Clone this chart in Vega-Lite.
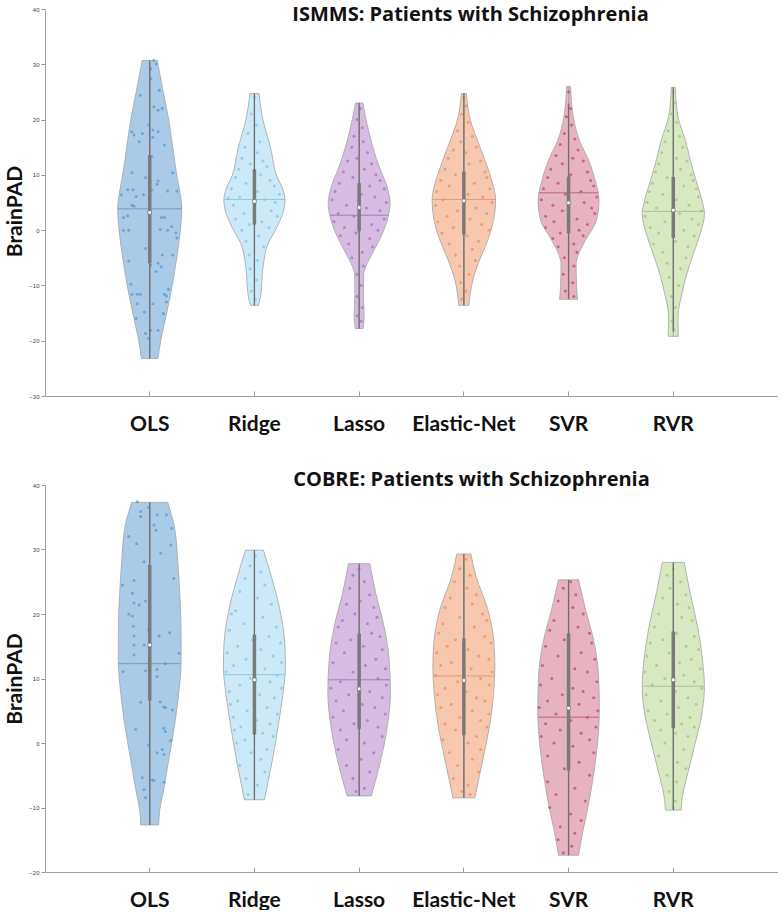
{
"$schema": "https://vega.github.io/schema/vega-lite/v6.json",
"background": "white",
"padding": {"left": 4, "top": 5, "right": 0, "bottom": 0},
"spacing": 35,
"config": {"view": {"stroke": null}, "font": "Lato"},
"datasets": {
"ismms_outline": [
{"method":"OLS","value":-23.2,"w":7.9},{"method":"OLS","value":-20,"w":10.5},{"method":"OLS","value":-15,"w":16.2},{"method":"OLS","value":-10,"w":21.5},{"method":"OLS","value":-5,"w":25.8},{"method":"OLS","value":0,"w":29.3},{"method":"OLS","value":4,"w":30.6},{"method":"OLS","value":6,"w":29.6},{"method":"OLS","value":10,"w":25.8},{"method":"OLS","value":15,"w":22},{"method":"OLS","value":20,"w":18.1},{"method":"OLS","value":25,"w":12.9},{"method":"OLS","value":30.7,"w":7.2},
{"method":"Ridge","value":-13.6,"w":3.8},{"method":"Ridge","value":-12,"w":5.8},{"method":"Ridge","value":-6.6,"w":8.3},{"method":"Ridge","value":-2.4,"w":13.1},{"method":"Ridge","value":0,"w":20},{"method":"Ridge","value":3,"w":27},{"method":"Ridge","value":5.5,"w":29.2},{"method":"Ridge","value":7,"w":27.8},{"method":"Ridge","value":10,"w":21},{"method":"Ridge","value":15,"w":15.3},{"method":"Ridge","value":20,"w":8.1},{"method":"Ridge","value":24.7,"w":4.3},
{"method":"Lasso","value":-17.8,"w":3.8},{"method":"Lasso","value":-15.7,"w":4.8},{"method":"Lasso","value":-12,"w":4.1},{"method":"Lasso","value":-8,"w":4.3},{"method":"Lasso","value":-6.6,"w":6.4},{"method":"Lasso","value":-4.2,"w":12.7},{"method":"Lasso","value":-0.6,"w":22.3},{"method":"Lasso","value":2.4,"w":27.7},{"method":"Lasso","value":4.8,"w":29.6},{"method":"Lasso","value":7.8,"w":26.7},{"method":"Lasso","value":11.5,"w":19.1},{"method":"Lasso","value":17.5,"w":9.6},{"method":"Lasso","value":23,"w":3.5},
{"method":"Elastic-Net","value":-13.6,"w":4.8},{"method":"Elastic-Net","value":-9,"w":8.6},{"method":"Elastic-Net","value":-5.4,"w":15},{"method":"Elastic-Net","value":-1.8,"w":22.9},{"method":"Elastic-Net","value":1.8,"w":28.4},{"method":"Elastic-Net","value":5.4,"w":30.3},{"method":"Elastic-Net","value":10.3,"w":24.5},{"method":"Elastic-Net","value":14.5,"w":16.5},{"method":"Elastic-Net","value":20.5,"w":5.4},{"method":"Elastic-Net","value":24.7,"w":2.4},
{"method":"SVR","value":-12.5,"w":8.6},{"method":"SVR","value":-10,"w":7.6},{"method":"SVR","value":-6,"w":7.2},{"method":"SVR","value":-4.8,"w":8.6},{"method":"SVR","value":-1.8,"w":16.2},{"method":"SVR","value":1.8,"w":26.7},{"method":"SVR","value":5.4,"w":29.1},{"method":"SVR","value":9,"w":25.5},{"method":"SVR","value":12.7,"w":19.1},{"method":"SVR","value":16.3,"w":10.2},{"method":"SVR","value":20.5,"w":4.5},{"method":"SVR","value":26,"w":1.9},
{"method":"RVR","value":-19.2,"w":4.8},{"method":"RVR","value":-15.7,"w":4.5},{"method":"RVR","value":-11.4,"w":8.3},{"method":"RVR","value":-7.8,"w":13.1},{"method":"RVR","value":-4.2,"w":19.4},{"method":"RVR","value":-0.6,"w":25.8},{"method":"RVR","value":3,"w":29.8},{"method":"RVR","value":5.4,"w":27.4},{"method":"RVR","value":9,"w":21.7},{"method":"RVR","value":12.7,"w":16.2},{"method":"RVR","value":16.3,"w":11.5},{"method":"RVR","value":20.5,"w":4.5},{"method":"RVR","value":25.8,"w":1.9}
],
"ismms_stats": [
{"method":"OLS","min":-23.2,"q1":-6,"median":3.2,"mean":3.85,"q3":13.6,"max":30.7,"meanw":30.5},
{"method":"Ridge","min":-13.6,"q1":1,"median":5.2,"mean":5.55,"q3":11,"max":24.7,"meanw":29.2},
{"method":"Lasso","min":-17.8,"q1":-0.2,"median":4.1,"mean":2.7,"q3":8.5,"max":23,"meanw":28},
{"method":"Elastic-Net","min":-13.6,"q1":-0.8,"median":5.3,"mean":5.55,"q3":10.6,"max":24.7,"meanw":30.2},
{"method":"SVR","min":-12.5,"q1":-0.6,"median":4.95,"mean":6.75,"q3":9.7,"max":22.9,"meanw":28},
{"method":"RVR","min":-18.4,"q1":-1.4,"median":3.6,"mean":3.4,"q3":9.6,"max":25.8,"meanw":29.5}
],
"ismms_points": [
{"method":"OLS","value":30.7,"offset":4},{"method":"OLS","value":30.1,"offset":6},{"method":"OLS","value":29.2,"offset":1},{"method":"OLS","value":27.4,"offset":1},{"method":"OLS","value":24.4,"offset":-9},{"method":"OLS","value":25.3,"offset":9},{"method":"OLS","value":22.3,"offset":4},{"method":"OLS","value":21.7,"offset":8},{"method":"OLS","value":22,"offset":12},{"method":"OLS","value":19,"offset":-1},{"method":"OLS","value":18.1,"offset":3},{"method":"OLS","value":17.8,"offset":8},{"method":"OLS","value":17.8,"offset":-17},{"method":"OLS","value":17.2,"offset":-15},{"method":"OLS","value":16,"offset":-10},{"method":"OLS","value":17.5,"offset":-7},{"method":"OLS","value":16.8,"offset":3},{"method":"OLS","value":15.4,"offset":14},{"method":"OLS","value":13.3,"offset":2},{"method":"OLS","value":10.4,"offset":-17},{"method":"OLS","value":9.5,"offset":-4},{"method":"OLS","value":8.9,"offset":8},{"method":"OLS","value":8.3,"offset":7},{"method":"OLS","value":10.4,"offset":22},{"method":"OLS","value":7.3,"offset":-21},{"method":"OLS","value":7.3,"offset":-16},{"method":"OLS","value":6.1,"offset":-13},{"method":"OLS","value":6.4,"offset":-6},{"method":"OLS","value":7.3,"offset":2},{"method":"OLS","value":7.1,"offset":17},{"method":"OLS","value":7.1,"offset":26},{"method":"OLS","value":6.4,"offset":-27},{"method":"OLS","value":4.3,"offset":-15},{"method":"OLS","value":4.5,"offset":-17},{"method":"OLS","value":2.3,"offset":-25},{"method":"OLS","value":2.6,"offset":-21},{"method":"OLS","value":0,"offset":-25},{"method":"OLS","value":0,"offset":-20},{"method":"OLS","value":2.3,"offset":11},{"method":"OLS","value":2.3,"offset":14},{"method":"OLS","value":0.1,"offset":10},{"method":"OLS","value":0,"offset":17},{"method":"OLS","value":0.6,"offset":21},{"method":"OLS","value":-1.4,"offset":26},{"method":"OLS","value":-0.5,"offset":25},{"method":"OLS","value":-3.3,"offset":-4},{"method":"OLS","value":-6.3,"offset":1},{"method":"OLS","value":-6,"offset":8},{"method":"OLS","value":-6.6,"offset":11},{"method":"OLS","value":-7.5,"offset":6},{"method":"OLS","value":-4.5,"offset":12},{"method":"OLS","value":-4.5,"offset":22},{"method":"OLS","value":-5.6,"offset":-20},{"method":"OLS","value":-9.8,"offset":-18},{"method":"OLS","value":-11.6,"offset":-12},{"method":"OLS","value":-11.6,"offset":-9},{"method":"OLS","value":-11.6,"offset":-17},{"method":"OLS","value":-10.7,"offset":18},{"method":"OLS","value":-11.9,"offset":16},{"method":"OLS","value":-11.6,"offset":14},{"method":"OLS","value":-13,"offset":16},{"method":"OLS","value":-13.3,"offset":-12},{"method":"OLS","value":-13.3,"offset":3},{"method":"OLS","value":-14.8,"offset":-5},{"method":"OLS","value":-16,"offset":-13},{"method":"OLS","value":-15.1,"offset":13},{"method":"OLS","value":-18.7,"offset":-4},{"method":"OLS","value":-18.1,"offset":1},{"method":"OLS","value":-18.1,"offset":8},{"method":"OLS","value":-19.6,"offset":-1},
{"method":"Ridge","value":24,"offset":0},{"method":"Ridge","value":21,"offset":-3},{"method":"Ridge","value":19,"offset":2},{"method":"Ridge","value":17.5,"offset":-6},{"method":"Ridge","value":16,"offset":5},{"method":"Ridge","value":15,"offset":-9},{"method":"Ridge","value":14,"offset":3},{"method":"Ridge","value":13,"offset":-12},{"method":"Ridge","value":12.5,"offset":8},{"method":"Ridge","value":12,"offset":-4},{"method":"Ridge","value":11.5,"offset":12},{"method":"Ridge","value":11,"offset":-15},{"method":"Ridge","value":10,"offset":6},{"method":"Ridge","value":9.5,"offset":-18},{"method":"Ridge","value":9,"offset":15},{"method":"Ridge","value":8.5,"offset":-8},{"method":"Ridge","value":8,"offset":19},{"method":"Ridge","value":7.5,"offset":-22},{"method":"Ridge","value":7,"offset":3},{"method":"Ridge","value":6.5,"offset":24},{"method":"Ridge","value":6,"offset":-14},{"method":"Ridge","value":5.8,"offset":-25},{"method":"Ridge","value":5.5,"offset":10},{"method":"Ridge","value":5,"offset":20},{"method":"Ridge","value":4.5,"offset":-20},{"method":"Ridge","value":4,"offset":0},{"method":"Ridge","value":3.5,"offset":16},{"method":"Ridge","value":3,"offset":-10},{"method":"Ridge","value":2.5,"offset":22},{"method":"Ridge","value":2,"offset":-18},{"method":"Ridge","value":1.5,"offset":7},{"method":"Ridge","value":1,"offset":-5},{"method":"Ridge","value":0.5,"offset":14},{"method":"Ridge","value":0,"offset":-12},{"method":"Ridge","value":-1,"offset":4},{"method":"Ridge","value":-2,"offset":-8},{"method":"Ridge","value":-3,"offset":9},{"method":"Ridge","value":-4.5,"offset":-5},{"method":"Ridge","value":-5.5,"offset":3},{"method":"Ridge","value":-7,"offset":-4},{"method":"Ridge","value":-9,"offset":2},{"method":"Ridge","value":-11,"offset":-3},{"method":"Ridge","value":-12.5,"offset":1},
{"method":"Lasso","value":22,"offset":1},{"method":"Lasso","value":20,"offset":-2},{"method":"Lasso","value":18.5,"offset":3},{"method":"Lasso","value":17,"offset":-5},{"method":"Lasso","value":16,"offset":4},{"method":"Lasso","value":15,"offset":-7},{"method":"Lasso","value":14,"offset":8},{"method":"Lasso","value":13,"offset":-2},{"method":"Lasso","value":12.5,"offset":-11},{"method":"Lasso","value":12,"offset":12},{"method":"Lasso","value":11,"offset":5},{"method":"Lasso","value":10.5,"offset":-15},{"method":"Lasso","value":10,"offset":16},{"method":"Lasso","value":9.5,"offset":-6},{"method":"Lasso","value":9,"offset":20},{"method":"Lasso","value":8.5,"offset":-19},{"method":"Lasso","value":8,"offset":10},{"method":"Lasso","value":7.5,"offset":24},{"method":"Lasso","value":7,"offset":-23},{"method":"Lasso","value":6.5,"offset":2},{"method":"Lasso","value":6,"offset":15},{"method":"Lasso","value":5.5,"offset":-26},{"method":"Lasso","value":5,"offset":26},{"method":"Lasso","value":4.5,"offset":-12},{"method":"Lasso","value":4,"offset":7},{"method":"Lasso","value":3.5,"offset":20},{"method":"Lasso","value":3,"offset":-20},{"method":"Lasso","value":2.5,"offset":-5},{"method":"Lasso","value":2,"offset":24},{"method":"Lasso","value":1.5,"offset":-24},{"method":"Lasso","value":1,"offset":12},{"method":"Lasso","value":0.5,"offset":-14},{"method":"Lasso","value":0,"offset":18},{"method":"Lasso","value":-0.5,"offset":-3},{"method":"Lasso","value":-1,"offset":-18},{"method":"Lasso","value":-1.5,"offset":10},{"method":"Lasso","value":-2.5,"offset":-10},{"method":"Lasso","value":-3,"offset":13},{"method":"Lasso","value":-4,"offset":3},{"method":"Lasso","value":-5,"offset":-7},{"method":"Lasso","value":-6.5,"offset":4},{"method":"Lasso","value":-8,"offset":-2},{"method":"Lasso","value":-10,"offset":2},{"method":"Lasso","value":-12,"offset":-2},{"method":"Lasso","value":-14,"offset":3},{"method":"Lasso","value":-15.5,"offset":-2},{"method":"Lasso","value":-16.5,"offset":2},
{"method":"Elastic-Net","value":24,"offset":0},{"method":"Elastic-Net","value":22.5,"offset":2},{"method":"Elastic-Net","value":21,"offset":-2},{"method":"Elastic-Net","value":19.5,"offset":4},{"method":"Elastic-Net","value":18,"offset":-6},{"method":"Elastic-Net","value":17,"offset":8},{"method":"Elastic-Net","value":16,"offset":-3},{"method":"Elastic-Net","value":15,"offset":12},{"method":"Elastic-Net","value":14.5,"offset":-10},{"method":"Elastic-Net","value":14,"offset":2},{"method":"Elastic-Net","value":13,"offset":-15},{"method":"Elastic-Net","value":12.5,"offset":16},{"method":"Elastic-Net","value":12,"offset":5},{"method":"Elastic-Net","value":11,"offset":-18},{"method":"Elastic-Net","value":10.5,"offset":20},{"method":"Elastic-Net","value":10,"offset":-8},{"method":"Elastic-Net","value":9.5,"offset":22},{"method":"Elastic-Net","value":9,"offset":-22},{"method":"Elastic-Net","value":8.5,"offset":10},{"method":"Elastic-Net","value":8,"offset":-14},{"method":"Elastic-Net","value":7.5,"offset":25},{"method":"Elastic-Net","value":7,"offset":-26},{"method":"Elastic-Net","value":6.5,"offset":4},{"method":"Elastic-Net","value":6,"offset":18},{"method":"Elastic-Net","value":5.5,"offset":-20},{"method":"Elastic-Net","value":5,"offset":27},{"method":"Elastic-Net","value":4.5,"offset":-27},{"method":"Elastic-Net","value":4,"offset":12},{"method":"Elastic-Net","value":3.5,"offset":-6},{"method":"Elastic-Net","value":3,"offset":22},{"method":"Elastic-Net","value":2.5,"offset":-16},{"method":"Elastic-Net","value":2,"offset":6},{"method":"Elastic-Net","value":1.5,"offset":-25},{"method":"Elastic-Net","value":1,"offset":17},{"method":"Elastic-Net","value":0.5,"offset":-10},{"method":"Elastic-Net","value":0,"offset":24},{"method":"Elastic-Net","value":-0.5,"offset":-21},{"method":"Elastic-Net","value":-1,"offset":3},{"method":"Elastic-Net","value":-2,"offset":14},{"method":"Elastic-Net","value":-2.5,"offset":-14},{"method":"Elastic-Net","value":-3.5,"offset":8},{"method":"Elastic-Net","value":-4.5,"offset":-8},{"method":"Elastic-Net","value":-5.5,"offset":11},{"method":"Elastic-Net","value":-6.5,"offset":-4},{"method":"Elastic-Net","value":-8,"offset":5},{"method":"Elastic-Net","value":-9.5,"offset":-3},{"method":"Elastic-Net","value":-11,"offset":2},{"method":"Elastic-Net","value":-12.5,"offset":-2},
{"method":"SVR","value":25,"offset":0},{"method":"SVR","value":22,"offset":2},{"method":"SVR","value":20.5,"offset":-2},{"method":"SVR","value":19,"offset":3},{"method":"SVR","value":17.5,"offset":-4},{"method":"SVR","value":16.5,"offset":6},{"method":"SVR","value":15.5,"offset":-8},{"method":"SVR","value":14.5,"offset":9},{"method":"SVR","value":13.5,"offset":-12},{"method":"SVR","value":13,"offset":4},{"method":"SVR","value":12.5,"offset":14},{"method":"SVR","value":12,"offset":-6},{"method":"SVR","value":11,"offset":-17},{"method":"SVR","value":10.5,"offset":18},{"method":"SVR","value":10,"offset":2},{"method":"SVR","value":9.5,"offset":-20},{"method":"SVR","value":9,"offset":21},{"method":"SVR","value":8.5,"offset":-10},{"method":"SVR","value":8,"offset":24},{"method":"SVR","value":7.5,"offset":-24},{"method":"SVR","value":7,"offset":12},{"method":"SVR","value":6.5,"offset":-3},{"method":"SVR","value":6,"offset":27},{"method":"SVR","value":5.5,"offset":-26},{"method":"SVR","value":5,"offset":15},{"method":"SVR","value":4.5,"offset":-15},{"method":"SVR","value":4,"offset":22},{"method":"SVR","value":3.5,"offset":-6},{"method":"SVR","value":3,"offset":25},{"method":"SVR","value":2.5,"offset":-22},{"method":"SVR","value":2,"offset":8},{"method":"SVR","value":1.5,"offset":-14},{"method":"SVR","value":1,"offset":18},{"method":"SVR","value":0.5,"offset":-22},{"method":"SVR","value":0,"offset":10},{"method":"SVR","value":-0.5,"offset":-8},{"method":"SVR","value":-1,"offset":14},{"method":"SVR","value":-1.5,"offset":-15},{"method":"SVR","value":-2.5,"offset":5},{"method":"SVR","value":-3,"offset":-10},{"method":"SVR","value":-4,"offset":8},{"method":"SVR","value":-5,"offset":-4},{"method":"SVR","value":-6.5,"offset":5},{"method":"SVR","value":-8,"offset":-5},{"method":"SVR","value":-9.5,"offset":4},{"method":"SVR","value":-11,"offset":-3},{"method":"SVR","value":-12,"offset":5},
{"method":"RVR","value":25,"offset":0},{"method":"RVR","value":23,"offset":1},{"method":"RVR","value":21,"offset":-2},{"method":"RVR","value":19.5,"offset":3},{"method":"RVR","value":18,"offset":-5},{"method":"RVR","value":17,"offset":6},{"method":"RVR","value":16,"offset":-8},{"method":"RVR","value":15,"offset":9},{"method":"RVR","value":14,"offset":-11},{"method":"RVR","value":13,"offset":3},{"method":"RVR","value":12.5,"offset":13},{"method":"RVR","value":12,"offset":-14},{"method":"RVR","value":11,"offset":7},{"method":"RVR","value":10.5,"offset":-17},{"method":"RVR","value":10,"offset":17},{"method":"RVR","value":9.5,"offset":-6},{"method":"RVR","value":9,"offset":19},{"method":"RVR","value":8.5,"offset":-20},{"method":"RVR","value":8,"offset":10},{"method":"RVR","value":7.5,"offset":22},{"method":"RVR","value":7,"offset":-23},{"method":"RVR","value":6.5,"offset":-10},{"method":"RVR","value":6,"offset":24},{"method":"RVR","value":5.5,"offset":3},{"method":"RVR","value":5,"offset":-25},{"method":"RVR","value":4.5,"offset":15},{"method":"RVR","value":4,"offset":-16},{"method":"RVR","value":3.5,"offset":27},{"method":"RVR","value":3,"offset":6},{"method":"RVR","value":2.5,"offset":-27},{"method":"RVR","value":2,"offset":18},{"method":"RVR","value":1.5,"offset":-8},{"method":"RVR","value":1,"offset":24},{"method":"RVR","value":0.5,"offset":-22},{"method":"RVR","value":0,"offset":10},{"method":"RVR","value":-0.5,"offset":-14},{"method":"RVR","value":-1,"offset":20},{"method":"RVR","value":-2,"offset":2},{"method":"RVR","value":-2.5,"offset":-19},{"method":"RVR","value":-3,"offset":14},{"method":"RVR","value":-4,"offset":-10},{"method":"RVR","value":-5,"offset":12},{"method":"RVR","value":-6,"offset":-6},{"method":"RVR","value":-7,"offset":7},{"method":"RVR","value":-8.5,"offset":-4},{"method":"RVR","value":-10,"offset":5},{"method":"RVR","value":-12,"offset":-2},{"method":"RVR","value":-14,"offset":2},{"method":"RVR","value":-16.5,"offset":-1},{"method":"RVR","value":-18,"offset":1}
],
"cobre_outline": [
{"method":"OLS","value":-12.7,"w":8.6},{"method":"OLS","value":-10.3,"w":9.6},{"method":"OLS","value":-7.8,"w":12.7},{"method":"OLS","value":-2.6,"w":18.1},{"method":"OLS","value":2.6,"w":23.6},{"method":"OLS","value":7.7,"w":27.7},{"method":"OLS","value":12.8,"w":30},{"method":"OLS","value":18,"w":29.9},{"method":"OLS","value":23.2,"w":28.7},{"method":"OLS","value":28.3,"w":26.7},{"method":"OLS","value":33.5,"w":23.6},{"method":"OLS","value":37.3,"w":17.2},
{"method":"Ridge","value":-8.8,"w":9.6},{"method":"Ridge","value":-6.7,"w":12.1},{"method":"Ridge","value":-2.6,"w":17.2},{"method":"Ridge","value":2.6,"w":22.6},{"method":"Ridge","value":7.7,"w":27.4},{"method":"Ridge","value":11.9,"w":29.6},{"method":"Ridge","value":15.5,"w":29},{"method":"Ridge","value":20.7,"w":24.3},{"method":"Ridge","value":25.8,"w":16.2},{"method":"Ridge","value":29.9,"w":8.6},
{"method":"Lasso","value":-8.2,"w":11.5},{"method":"Lasso","value":-5.7,"w":15.9},{"method":"Lasso","value":-2.6,"w":20.7},{"method":"Lasso","value":2.6,"w":27},{"method":"Lasso","value":7.7,"w":29.9},{"method":"Lasso","value":12.8,"w":28.7},{"method":"Lasso","value":18,"w":23.9},{"method":"Lasso","value":23.2,"w":15.9},{"method":"Lasso","value":27.8,"w":10.2},
{"method":"Elastic-Net","value":-8.5,"w":10.5},{"method":"Elastic-Net","value":-6.2,"w":13.4},{"method":"Elastic-Net","value":-2.6,"w":18.1},{"method":"Elastic-Net","value":2.6,"w":24.5},{"method":"Elastic-Net","value":7.7,"w":28.4},{"method":"Elastic-Net","value":11.9,"w":29.6},{"method":"Elastic-Net","value":15.5,"w":28.7},{"method":"Elastic-Net","value":20.7,"w":22.9},{"method":"Elastic-Net","value":25.8,"w":11.7},{"method":"Elastic-Net","value":29.3,"w":6.7},
{"method":"SVR","value":-17.4,"w":9.6},{"method":"SVR","value":-13.9,"w":13.4},{"method":"SVR","value":-10.3,"w":18.1},{"method":"SVR","value":-5.2,"w":23.6},{"method":"SVR","value":0,"w":27.7},{"method":"SVR","value":5.2,"w":29.4},{"method":"SVR","value":10.3,"w":28.7},{"method":"SVR","value":15.5,"w":24.5},{"method":"SVR","value":20.7,"w":16.2},{"method":"SVR","value":25.3,"w":9.6},
{"method":"RVR","value":-10.4,"w":7.6},{"method":"RVR","value":-8.8,"w":8.3},{"method":"RVR","value":-5.2,"w":13.1},{"method":"RVR","value":0,"w":21},{"method":"RVR","value":5.2,"w":28},{"method":"RVR","value":8.8,"w":29.7},{"method":"RVR","value":12.8,"w":28},{"method":"RVR","value":18,"w":23.2},{"method":"RVR","value":23.2,"w":16.2},{"method":"RVR","value":28,"w":10.5}
],
"cobre_stats": [
{"method":"OLS","min":-12.7,"q1":6.6,"median":15.2,"mean":12.3,"q3":27.6,"max":37.3,"meanw":29.8},
{"method":"Ridge","min":-8.8,"q1":1.3,"median":9.8,"mean":10.6,"q3":16.8,"max":29.9,"meanw":29},
{"method":"Lasso","min":-8.2,"q1":2.2,"median":8.4,"mean":9.8,"q3":17,"max":27.8,"meanw":29.5},
{"method":"Elastic-Net","min":-8.5,"q1":1.2,"median":9.7,"mean":10.4,"q3":16.2,"max":29.3,"meanw":29.2},
{"method":"SVR","min":-17.4,"q1":-4.3,"median":5.4,"mean":4,"q3":17,"max":25.3,"meanw":29},
{"method":"RVR","min":-10.4,"q1":2.3,"median":9.8,"mean":8.8,"q3":17.3,"max":28,"meanw":29.7}
],
"cobre_points": [
{"method":"OLS","value":37.4,"offset":-11.8},{"method":"OLS","value":35.9,"offset":-8.6},{"method":"OLS","value":35.1,"offset":-8.6},{"method":"OLS","value":36.5,"offset":-1},{"method":"OLS","value":35.4,"offset":7.3},{"method":"OLS","value":35.4,"offset":16},{"method":"OLS","value":33.8,"offset":4},{"method":"OLS","value":33,"offset":6},{"method":"OLS","value":33.3,"offset":21},{"method":"OLS","value":32,"offset":-20},{"method":"OLS","value":30.9,"offset":-12.5},{"method":"OLS","value":29.4,"offset":10.5},{"method":"OLS","value":30.7,"offset":20},{"method":"OLS","value":28.1,"offset":-5.4},{"method":"OLS","value":24.5,"offset":-26},{"method":"OLS","value":25.2,"offset":-15},{"method":"OLS","value":23.2,"offset":-16.5},{"method":"OLS","value":25.5,"offset":23},{"method":"OLS","value":21.7,"offset":-15},{"method":"OLS","value":21.4,"offset":-10},{"method":"OLS","value":22,"offset":-4},{"method":"OLS","value":20,"offset":-20},{"method":"OLS","value":19.7,"offset":-16.5},{"method":"OLS","value":17.6,"offset":-1},{"method":"OLS","value":18.1,"offset":-15.6},{"method":"OLS","value":16.6,"offset":-15},{"method":"OLS","value":16.6,"offset":9},{"method":"OLS","value":17.1,"offset":19},{"method":"OLS","value":15.2,"offset":-15},{"method":"OLS","value":15.2,"offset":-5.4},{"method":"OLS","value":13.9,"offset":28},{"method":"OLS","value":13.7,"offset":-15},{"method":"OLS","value":11.1,"offset":-25.5},{"method":"OLS","value":11.2,"offset":-4},{"method":"OLS","value":11.4,"offset":7},{"method":"OLS","value":12.3,"offset":15},{"method":"OLS","value":10.3,"offset":7},{"method":"OLS","value":6.3,"offset":-8.6},{"method":"OLS","value":6.4,"offset":10},{"method":"OLS","value":5.6,"offset":13.6},{"method":"OLS","value":5.5,"offset":15},{"method":"OLS","value":5.1,"offset":21.6},{"method":"OLS","value":2.1,"offset":-13.4},{"method":"OLS","value":2.3,"offset":13.6},{"method":"OLS","value":1.8,"offset":15},{"method":"OLS","value":0.4,"offset":20},{"method":"OLS","value":-0.3,"offset":-1},{"method":"OLS","value":-1,"offset":12},{"method":"OLS","value":-1.5,"offset":7},{"method":"OLS","value":-1.8,"offset":13.6},{"method":"OLS","value":-5.4,"offset":-7},{"method":"OLS","value":-5.7,"offset":2.5},{"method":"OLS","value":-5.8,"offset":4},{"method":"OLS","value":-6.1,"offset":13.6},{"method":"OLS","value":-7.2,"offset":-5.4},{"method":"OLS","value":-8.5,"offset":-4},
{"method":"Ridge","value":29,"offset":1},{"method":"Ridge","value":27.5,"offset":-4},{"method":"Ridge","value":26.5,"offset":6},{"method":"Ridge","value":25.5,"offset":-9},{"method":"Ridge","value":24.5,"offset":10},{"method":"Ridge","value":23.5,"offset":-14},{"method":"Ridge","value":22.5,"offset":3},{"method":"Ridge","value":21.5,"offset":16},{"method":"Ridge","value":20.5,"offset":-18},{"method":"Ridge","value":20,"offset":-22},{"method":"Ridge","value":19.5,"offset":8},{"method":"Ridge","value":18.5,"offset":-10},{"method":"Ridge","value":18,"offset":21},{"method":"Ridge","value":17.5,"offset":-24},{"method":"Ridge","value":16.5,"offset":14},{"method":"Ridge","value":16,"offset":-2},{"method":"Ridge","value":15.5,"offset":25},{"method":"Ridge","value":15,"offset":-16},{"method":"Ridge","value":14.5,"offset":6},{"method":"Ridge","value":14,"offset":-26},{"method":"Ridge","value":13.5,"offset":18},{"method":"Ridge","value":13,"offset":-8},{"method":"Ridge","value":12.5,"offset":26},{"method":"Ridge","value":12,"offset":-20},{"method":"Ridge","value":11.5,"offset":10},{"method":"Ridge","value":11,"offset":-27},{"method":"Ridge","value":10.5,"offset":22},{"method":"Ridge","value":10,"offset":-4},{"method":"Ridge","value":9.5,"offset":15},{"method":"Ridge","value":9,"offset":-14},{"method":"Ridge","value":8.5,"offset":26},{"method":"Ridge","value":8,"offset":-24},{"method":"Ridge","value":7.5,"offset":5},{"method":"Ridge","value":7,"offset":19},{"method":"Ridge","value":6.5,"offset":-16},{"method":"Ridge","value":6,"offset":-23},{"method":"Ridge","value":5.5,"offset":12},{"method":"Ridge","value":5,"offset":-7},{"method":"Ridge","value":4.5,"offset":22},{"method":"Ridge","value":4,"offset":-20},{"method":"Ridge","value":3.5,"offset":2},{"method":"Ridge","value":3,"offset":15},{"method":"Ridge","value":2.5,"offset":-13},{"method":"Ridge","value":2,"offset":-19},{"method":"Ridge","value":1.5,"offset":8},{"method":"Ridge","value":1,"offset":18},{"method":"Ridge","value":0.5,"offset":-9},{"method":"Ridge","value":0,"offset":-17},{"method":"Ridge","value":-1,"offset":12},{"method":"Ridge","value":-1.5,"offset":-3},{"method":"Ridge","value":-2.5,"offset":6},{"method":"Ridge","value":-3.5,"offset":-14},{"method":"Ridge","value":-4.5,"offset":10},{"method":"Ridge","value":-5.5,"offset":-8},{"method":"Ridge","value":-6.5,"offset":3},{"method":"Ridge","value":-8,"offset":-6},
{"method":"Lasso","value":27,"offset":0},{"method":"Lasso","value":26,"offset":-6},{"method":"Lasso","value":25,"offset":5},{"method":"Lasso","value":24,"offset":-9},{"method":"Lasso","value":23,"offset":10},{"method":"Lasso","value":22,"offset":1},{"method":"Lasso","value":21.5,"offset":-12},{"method":"Lasso","value":21,"offset":14},{"method":"Lasso","value":20,"offset":-4},{"method":"Lasso","value":19.5,"offset":17},{"method":"Lasso","value":19,"offset":-16},{"method":"Lasso","value":18.5,"offset":8},{"method":"Lasso","value":18,"offset":-20},{"method":"Lasso","value":17,"offset":12},{"method":"Lasso","value":16.5,"offset":20},{"method":"Lasso","value":16,"offset":-8},{"method":"Lasso","value":15.5,"offset":-22},{"method":"Lasso","value":15,"offset":4},{"method":"Lasso","value":14.5,"offset":22},{"method":"Lasso","value":14,"offset":-14},{"method":"Lasso","value":13,"offset":16},{"method":"Lasso","value":12.5,"offset":-25},{"method":"Lasso","value":12,"offset":6},{"method":"Lasso","value":11.5,"offset":25},{"method":"Lasso","value":11,"offset":-6},{"method":"Lasso","value":10,"offset":18},{"method":"Lasso","value":9.5,"offset":-18},{"method":"Lasso","value":9,"offset":26},{"method":"Lasso","value":8.5,"offset":-27},{"method":"Lasso","value":8,"offset":10},{"method":"Lasso","value":7.5,"offset":-10},{"method":"Lasso","value":7,"offset":22},{"method":"Lasso","value":6.5,"offset":-22},{"method":"Lasso","value":6,"offset":3},{"method":"Lasso","value":5.5,"offset":15},{"method":"Lasso","value":5,"offset":-15},{"method":"Lasso","value":4.5,"offset":25},{"method":"Lasso","value":4,"offset":-25},{"method":"Lasso","value":3.5,"offset":8},{"method":"Lasso","value":3,"offset":-5},{"method":"Lasso","value":2.5,"offset":18},{"method":"Lasso","value":2,"offset":-18},{"method":"Lasso","value":1,"offset":22},{"method":"Lasso","value":0.5,"offset":-12},{"method":"Lasso","value":0,"offset":5},{"method":"Lasso","value":-1,"offset":-20},{"method":"Lasso","value":-1.5,"offset":14},{"method":"Lasso","value":-2.5,"offset":2},{"method":"Lasso","value":-3.5,"offset":-12},{"method":"Lasso","value":-4.5,"offset":10},{"method":"Lasso","value":-5.5,"offset":-6},{"method":"Lasso","value":-7,"offset":5},{"method":"Lasso","value":-7.5,"offset":-3},
{"method":"Elastic-Net","value":28.5,"offset":2},{"method":"Elastic-Net","value":27,"offset":-4},{"method":"Elastic-Net","value":26,"offset":6},{"method":"Elastic-Net","value":25,"offset":-9},{"method":"Elastic-Net","value":24,"offset":3},{"method":"Elastic-Net","value":23,"offset":12},{"method":"Elastic-Net","value":22.5,"offset":-13},{"method":"Elastic-Net","value":21.5,"offset":8},{"method":"Elastic-Net","value":21,"offset":-18},{"method":"Elastic-Net","value":20,"offset":18},{"method":"Elastic-Net","value":19.5,"offset":-4},{"method":"Elastic-Net","value":19,"offset":22},{"method":"Elastic-Net","value":18.5,"offset":-20},{"method":"Elastic-Net","value":18,"offset":10},{"method":"Elastic-Net","value":17,"offset":-24},{"method":"Elastic-Net","value":16.5,"offset":20},{"method":"Elastic-Net","value":16,"offset":-8},{"method":"Elastic-Net","value":15.5,"offset":26},{"method":"Elastic-Net","value":15,"offset":-16},{"method":"Elastic-Net","value":14.5,"offset":4},{"method":"Elastic-Net","value":14,"offset":-26},{"method":"Elastic-Net","value":13.5,"offset":14},{"method":"Elastic-Net","value":13,"offset":24},{"method":"Elastic-Net","value":12.5,"offset":-12},{"method":"Elastic-Net","value":12,"offset":-22},{"method":"Elastic-Net","value":11.5,"offset":7},{"method":"Elastic-Net","value":11,"offset":27},{"method":"Elastic-Net","value":10.5,"offset":-27},{"method":"Elastic-Net","value":10,"offset":16},{"method":"Elastic-Net","value":9.5,"offset":-6},{"method":"Elastic-Net","value":9,"offset":24},{"method":"Elastic-Net","value":8.5,"offset":-18},{"method":"Elastic-Net","value":8,"offset":2},{"method":"Elastic-Net","value":7.5,"offset":-25},{"method":"Elastic-Net","value":7,"offset":12},{"method":"Elastic-Net","value":6.5,"offset":20},{"method":"Elastic-Net","value":6,"offset":-12},{"method":"Elastic-Net","value":5.5,"offset":-22},{"method":"Elastic-Net","value":5,"offset":8},{"method":"Elastic-Net","value":4.5,"offset":24},{"method":"Elastic-Net","value":4,"offset":-4},{"method":"Elastic-Net","value":3.5,"offset":16},{"method":"Elastic-Net","value":3,"offset":-18},{"method":"Elastic-Net","value":2.5,"offset":22},{"method":"Elastic-Net","value":2,"offset":-8},{"method":"Elastic-Net","value":1,"offset":12},{"method":"Elastic-Net","value":0.5,"offset":-20},{"method":"Elastic-Net","value":0,"offset":4},{"method":"Elastic-Net","value":-1,"offset":16},{"method":"Elastic-Net","value":-1.5,"offset":-14},{"method":"Elastic-Net","value":-2.5,"offset":8},{"method":"Elastic-Net","value":-3.5,"offset":-6},{"method":"Elastic-Net","value":-4.5,"offset":14},{"method":"Elastic-Net","value":-5.5,"offset":-10},{"method":"Elastic-Net","value":-6.5,"offset":4},{"method":"Elastic-Net","value":-7.5,"offset":-2},{"method":"Elastic-Net","value":-8,"offset":6},
{"method":"SVR","value":25,"offset":2},{"method":"SVR","value":24,"offset":-5},{"method":"SVR","value":23,"offset":7},{"method":"SVR","value":22,"offset":-10},{"method":"SVR","value":21,"offset":4},{"method":"SVR","value":20,"offset":14},{"method":"SVR","value":19,"offset":-14},{"method":"SVR","value":18,"offset":9},{"method":"SVR","value":17.5,"offset":-18},{"method":"SVR","value":17,"offset":20},{"method":"SVR","value":16,"offset":-4},{"method":"SVR","value":15.5,"offset":22},{"method":"SVR","value":15,"offset":-22},{"method":"SVR","value":14,"offset":12},{"method":"SVR","value":13.5,"offset":-10},{"method":"SVR","value":13,"offset":25},{"method":"SVR","value":12,"offset":-25},{"method":"SVR","value":11.5,"offset":6},{"method":"SVR","value":11,"offset":18},{"method":"SVR","value":10,"offset":-16},{"method":"SVR","value":9.5,"offset":27},{"method":"SVR","value":9,"offset":-27},{"method":"SVR","value":8.5,"offset":4},{"method":"SVR","value":8,"offset":14},{"method":"SVR","value":7.5,"offset":-6},{"method":"SVR","value":7,"offset":24},{"method":"SVR","value":6.5,"offset":-20},{"method":"SVR","value":6,"offset":10},{"method":"SVR","value":5.5,"offset":-28},{"method":"SVR","value":5,"offset":28},{"method":"SVR","value":4.5,"offset":-12},{"method":"SVR","value":4,"offset":18},{"method":"SVR","value":3.5,"offset":2},{"method":"SVR","value":3,"offset":-22},{"method":"SVR","value":2.5,"offset":26},{"method":"SVR","value":2,"offset":-8},{"method":"SVR","value":1.5,"offset":12},{"method":"SVR","value":1,"offset":-26},{"method":"SVR","value":0.5,"offset":20},{"method":"SVR","value":0,"offset":-14},{"method":"SVR","value":-0.5,"offset":4},{"method":"SVR","value":-1.5,"offset":24},{"method":"SVR","value":-2,"offset":-20},{"method":"SVR","value":-3,"offset":10},{"method":"SVR","value":-4,"offset":-4},{"method":"SVR","value":-5,"offset":20},{"method":"SVR","value":-6,"offset":-20},{"method":"SVR","value":-7,"offset":6},{"method":"SVR","value":-8,"offset":-12},{"method":"SVR","value":-9,"offset":16},{"method":"SVR","value":-10,"offset":-18},{"method":"SVR","value":-11,"offset":2},{"method":"SVR","value":-12,"offset":12},{"method":"SVR","value":-13,"offset":-8},{"method":"SVR","value":-14,"offset":6},{"method":"SVR","value":-15,"offset":-10},{"method":"SVR","value":-16,"offset":3},{"method":"SVR","value":-17,"offset":-5},
{"method":"RVR","value":27,"offset":0},{"method":"RVR","value":26,"offset":-6},{"method":"RVR","value":25,"offset":7},{"method":"RVR","value":24,"offset":-3},{"method":"RVR","value":23,"offset":12},{"method":"RVR","value":22.5,"offset":-10},{"method":"RVR","value":21.5,"offset":4},{"method":"RVR","value":21,"offset":15},{"method":"RVR","value":20,"offset":-14},{"method":"RVR","value":19.5,"offset":8},{"method":"RVR","value":19,"offset":18},{"method":"RVR","value":18,"offset":-18},{"method":"RVR","value":17,"offset":3},{"method":"RVR","value":16.5,"offset":20},{"method":"RVR","value":16,"offset":-10},{"method":"RVR","value":15.5,"offset":-22},{"method":"RVR","value":15,"offset":12},{"method":"RVR","value":14.5,"offset":24},{"method":"RVR","value":14,"offset":-4},{"method":"RVR","value":13.5,"offset":-25},{"method":"RVR","value":13,"offset":17},{"method":"RVR","value":12.5,"offset":6},{"method":"RVR","value":12,"offset":-16},{"method":"RVR","value":11.5,"offset":26},{"method":"RVR","value":11,"offset":-27},{"method":"RVR","value":10.5,"offset":10},{"method":"RVR","value":10,"offset":-8},{"method":"RVR","value":9.5,"offset":20},{"method":"RVR","value":9,"offset":-20},{"method":"RVR","value":8.5,"offset":27},{"method":"RVR","value":8,"offset":2},{"method":"RVR","value":7.5,"offset":-26},{"method":"RVR","value":7,"offset":14},{"method":"RVR","value":6.5,"offset":-12},{"method":"RVR","value":6,"offset":22},{"method":"RVR","value":5.5,"offset":5},{"method":"RVR","value":5,"offset":-24},{"method":"RVR","value":4.5,"offset":-6},{"method":"RVR","value":4,"offset":16},{"method":"RVR","value":3.5,"offset":-18},{"method":"RVR","value":3,"offset":8},{"method":"RVR","value":2.5,"offset":20},{"method":"RVR","value":2,"offset":-12},{"method":"RVR","value":1.5,"offset":2},{"method":"RVR","value":1,"offset":14},{"method":"RVR","value":0,"offset":-8},{"method":"RVR","value":-1,"offset":10},{"method":"RVR","value":-2,"offset":-14},{"method":"RVR","value":-3,"offset":4},{"method":"RVR","value":-4,"offset":12},{"method":"RVR","value":-5,"offset":-6},{"method":"RVR","value":-6,"offset":3},{"method":"RVR","value":-7.5,"offset":-4},{"method":"RVR","value":-9,"offset":2},{"method":"RVR","value":-10,"offset":0}
]
},
"vconcat": [
{
"width": 733, "height": 387,
"title": {"text": "ISMMS: Patients with Schizophrenia", "font": "Open Sans", "fontSize": 20, "fontWeight": "bold", "color": "#111111", "anchor": "middle", "dx": 59, "baseline": "alphabetic", "offset": -35},
"layer": [
{"layer":[
{"data":{"name":"ismms_outline"},"transform":[{"filter":{"field":"method","equal":"OLS"}}],"mark":{"type":"area","orient":"horizontal","interpolate":"monotone","fill":"#a9cbe8","stroke":"#a3a3a3","strokeWidth":0.8},"encoding":{"y":{"field":"value","type":"quantitative","scale":{"domain":[-30,40],"nice":false},"title":"BrainPAD"},"x":{"field":"w","type":"quantitative","scale":{"domain":[-100,600],"nice":false,"zero":false},"axis":null},"x2":{"datum":0}}},
{"data":{"name":"ismms_stats"},"transform":[{"filter":{"field":"method","equal":"OLS"}}],"mark":{"type":"rule","color":"#6d9fc9","strokeWidth":1},"encoding":{"y":{"field":"mean","type":"quantitative","scale":{"domain":[-30,40],"nice":false},"title":"BrainPAD"},"x":{"field":"meanw","type":"quantitative","axis":null},"x2":{"datum":0}}}
]},
{"layer":[
{"data":{"name":"ismms_outline"},"transform":[{"filter":{"field":"method","equal":"OLS"}}],"mark":{"type":"area","orient":"horizontal","interpolate":"monotone","fill":"#a9cbe8","stroke":"#a3a3a3","strokeWidth":0.8},"encoding":{"y":{"field":"value","type":"quantitative","scale":{"domain":[-30,40],"nice":false},"title":"BrainPAD"},"x":{"field":"w","type":"quantitative","scale":{"domain":[-600,100],"nice":false,"zero":false,"reverse":true},"axis":null},"x2":{"datum":0}}},
{"data":{"name":"ismms_stats"},"transform":[{"filter":{"field":"method","equal":"OLS"}}],"mark":{"type":"rule","color":"#6d9fc9","strokeWidth":1},"encoding":{"y":{"field":"mean","type":"quantitative","scale":{"domain":[-30,40],"nice":false},"title":"BrainPAD"},"x":{"field":"meanw","type":"quantitative","axis":null},"x2":{"datum":0}}}
]},
{"layer":[
{"data":{"name":"ismms_outline"},"transform":[{"filter":{"field":"method","equal":"Ridge"}}],"mark":{"type":"area","orient":"horizontal","interpolate":"monotone","fill":"#cce9f8","stroke":"#a3a3a3","strokeWidth":0.8},"encoding":{"y":{"field":"value","type":"quantitative","scale":{"domain":[-30,40],"nice":false},"title":"BrainPAD"},"x":{"field":"w","type":"quantitative","scale":{"domain":[-200,500],"nice":false,"zero":false},"axis":null},"x2":{"datum":0}}},
{"data":{"name":"ismms_stats"},"transform":[{"filter":{"field":"method","equal":"Ridge"}}],"mark":{"type":"rule","color":"#8fcbe6","strokeWidth":1},"encoding":{"y":{"field":"mean","type":"quantitative","scale":{"domain":[-30,40],"nice":false},"title":"BrainPAD"},"x":{"field":"meanw","type":"quantitative","axis":null},"x2":{"datum":0}}}
]},
{"layer":[
{"data":{"name":"ismms_outline"},"transform":[{"filter":{"field":"method","equal":"Ridge"}}],"mark":{"type":"area","orient":"horizontal","interpolate":"monotone","fill":"#cce9f8","stroke":"#a3a3a3","strokeWidth":0.8},"encoding":{"y":{"field":"value","type":"quantitative","scale":{"domain":[-30,40],"nice":false},"title":"BrainPAD"},"x":{"field":"w","type":"quantitative","scale":{"domain":[-500,200],"nice":false,"zero":false,"reverse":true},"axis":null},"x2":{"datum":0}}},
{"data":{"name":"ismms_stats"},"transform":[{"filter":{"field":"method","equal":"Ridge"}}],"mark":{"type":"rule","color":"#8fcbe6","strokeWidth":1},"encoding":{"y":{"field":"mean","type":"quantitative","scale":{"domain":[-30,40],"nice":false},"title":"BrainPAD"},"x":{"field":"meanw","type":"quantitative","axis":null},"x2":{"datum":0}}}
]},
{"layer":[
{"data":{"name":"ismms_outline"},"transform":[{"filter":{"field":"method","equal":"Lasso"}}],"mark":{"type":"area","orient":"horizontal","interpolate":"monotone","fill":"#d6bce1","stroke":"#a3a3a3","strokeWidth":0.8},"encoding":{"y":{"field":"value","type":"quantitative","scale":{"domain":[-30,40],"nice":false},"title":"BrainPAD"},"x":{"field":"w","type":"quantitative","scale":{"domain":[-300,400],"nice":false,"zero":false},"axis":null},"x2":{"datum":0}}},
{"data":{"name":"ismms_stats"},"transform":[{"filter":{"field":"method","equal":"Lasso"}}],"mark":{"type":"rule","color":"#a27dbd","strokeWidth":1},"encoding":{"y":{"field":"mean","type":"quantitative","scale":{"domain":[-30,40],"nice":false},"title":"BrainPAD"},"x":{"field":"meanw","type":"quantitative","axis":null},"x2":{"datum":0}}}
]},
{"layer":[
{"data":{"name":"ismms_outline"},"transform":[{"filter":{"field":"method","equal":"Lasso"}}],"mark":{"type":"area","orient":"horizontal","interpolate":"monotone","fill":"#d6bce1","stroke":"#a3a3a3","strokeWidth":0.8},"encoding":{"y":{"field":"value","type":"quantitative","scale":{"domain":[-30,40],"nice":false},"title":"BrainPAD"},"x":{"field":"w","type":"quantitative","scale":{"domain":[-400,300],"nice":false,"zero":false,"reverse":true},"axis":null},"x2":{"datum":0}}},
{"data":{"name":"ismms_stats"},"transform":[{"filter":{"field":"method","equal":"Lasso"}}],"mark":{"type":"rule","color":"#a27dbd","strokeWidth":1},"encoding":{"y":{"field":"mean","type":"quantitative","scale":{"domain":[-30,40],"nice":false},"title":"BrainPAD"},"x":{"field":"meanw","type":"quantitative","axis":null},"x2":{"datum":0}}}
]},
{"layer":[
{"data":{"name":"ismms_outline"},"transform":[{"filter":{"field":"method","equal":"Elastic-Net"}}],"mark":{"type":"area","orient":"horizontal","interpolate":"monotone","fill":"#f7c8ae","stroke":"#a3a3a3","strokeWidth":0.8},"encoding":{"y":{"field":"value","type":"quantitative","scale":{"domain":[-30,40],"nice":false},"title":"BrainPAD"},"x":{"field":"w","type":"quantitative","scale":{"domain":[-400,300],"nice":false,"zero":false},"axis":null},"x2":{"datum":0}}},
{"data":{"name":"ismms_stats"},"transform":[{"filter":{"field":"method","equal":"Elastic-Net"}}],"mark":{"type":"rule","color":"#e59b7a","strokeWidth":1},"encoding":{"y":{"field":"mean","type":"quantitative","scale":{"domain":[-30,40],"nice":false},"title":"BrainPAD"},"x":{"field":"meanw","type":"quantitative","axis":null},"x2":{"datum":0}}}
]},
{"layer":[
{"data":{"name":"ismms_outline"},"transform":[{"filter":{"field":"method","equal":"Elastic-Net"}}],"mark":{"type":"area","orient":"horizontal","interpolate":"monotone","fill":"#f7c8ae","stroke":"#a3a3a3","strokeWidth":0.8},"encoding":{"y":{"field":"value","type":"quantitative","scale":{"domain":[-30,40],"nice":false},"title":"BrainPAD"},"x":{"field":"w","type":"quantitative","scale":{"domain":[-300,400],"nice":false,"zero":false,"reverse":true},"axis":null},"x2":{"datum":0}}},
{"data":{"name":"ismms_stats"},"transform":[{"filter":{"field":"method","equal":"Elastic-Net"}}],"mark":{"type":"rule","color":"#e59b7a","strokeWidth":1},"encoding":{"y":{"field":"mean","type":"quantitative","scale":{"domain":[-30,40],"nice":false},"title":"BrainPAD"},"x":{"field":"meanw","type":"quantitative","axis":null},"x2":{"datum":0}}}
]},
{"layer":[
{"data":{"name":"ismms_outline"},"transform":[{"filter":{"field":"method","equal":"SVR"}}],"mark":{"type":"area","orient":"horizontal","interpolate":"monotone","fill":"#e7b3c1","stroke":"#a3a3a3","strokeWidth":0.8},"encoding":{"y":{"field":"value","type":"quantitative","scale":{"domain":[-30,40],"nice":false},"title":"BrainPAD"},"x":{"field":"w","type":"quantitative","scale":{"domain":[-500,200],"nice":false,"zero":false},"axis":null},"x2":{"datum":0}}},
{"data":{"name":"ismms_stats"},"transform":[{"filter":{"field":"method","equal":"SVR"}}],"mark":{"type":"rule","color":"#bb6580","strokeWidth":1},"encoding":{"y":{"field":"mean","type":"quantitative","scale":{"domain":[-30,40],"nice":false},"title":"BrainPAD"},"x":{"field":"meanw","type":"quantitative","axis":null},"x2":{"datum":0}}}
]},
{"layer":[
{"data":{"name":"ismms_outline"},"transform":[{"filter":{"field":"method","equal":"SVR"}}],"mark":{"type":"area","orient":"horizontal","interpolate":"monotone","fill":"#e7b3c1","stroke":"#a3a3a3","strokeWidth":0.8},"encoding":{"y":{"field":"value","type":"quantitative","scale":{"domain":[-30,40],"nice":false},"title":"BrainPAD"},"x":{"field":"w","type":"quantitative","scale":{"domain":[-200,500],"nice":false,"zero":false,"reverse":true},"axis":null},"x2":{"datum":0}}},
{"data":{"name":"ismms_stats"},"transform":[{"filter":{"field":"method","equal":"SVR"}}],"mark":{"type":"rule","color":"#bb6580","strokeWidth":1},"encoding":{"y":{"field":"mean","type":"quantitative","scale":{"domain":[-30,40],"nice":false},"title":"BrainPAD"},"x":{"field":"meanw","type":"quantitative","axis":null},"x2":{"datum":0}}}
]},
{"layer":[
{"data":{"name":"ismms_outline"},"transform":[{"filter":{"field":"method","equal":"RVR"}}],"mark":{"type":"area","orient":"horizontal","interpolate":"monotone","fill":"#d8e8c0","stroke":"#a3a3a3","strokeWidth":0.8},"encoding":{"y":{"field":"value","type":"quantitative","scale":{"domain":[-30,40],"nice":false},"title":"BrainPAD"},"x":{"field":"w","type":"quantitative","scale":{"domain":[-600,100],"nice":false,"zero":false},"axis":null},"x2":{"datum":0}}},
{"data":{"name":"ismms_stats"},"transform":[{"filter":{"field":"method","equal":"RVR"}}],"mark":{"type":"rule","color":"#a9c68d","strokeWidth":1},"encoding":{"y":{"field":"mean","type":"quantitative","scale":{"domain":[-30,40],"nice":false},"title":"BrainPAD"},"x":{"field":"meanw","type":"quantitative","axis":null},"x2":{"datum":0}}}
]},
{"layer":[
{"data":{"name":"ismms_outline"},"transform":[{"filter":{"field":"method","equal":"RVR"}}],"mark":{"type":"area","orient":"horizontal","interpolate":"monotone","fill":"#d8e8c0","stroke":"#a3a3a3","strokeWidth":0.8},"encoding":{"y":{"field":"value","type":"quantitative","scale":{"domain":[-30,40],"nice":false},"title":"BrainPAD"},"x":{"field":"w","type":"quantitative","scale":{"domain":[-100,600],"nice":false,"zero":false,"reverse":true},"axis":null},"x2":{"datum":0}}},
{"data":{"name":"ismms_stats"},"transform":[{"filter":{"field":"method","equal":"RVR"}}],"mark":{"type":"rule","color":"#a9c68d","strokeWidth":1},"encoding":{"y":{"field":"mean","type":"quantitative","scale":{"domain":[-30,40],"nice":false},"title":"BrainPAD"},"x":{"field":"meanw","type":"quantitative","axis":null},"x2":{"datum":0}}}
]},
{"layer":[
{"data":{"name":"ismms_points"},"mark":{"type":"circle","size":9,"opacity":0.8},"encoding":{
"x":{"field":"method","type":"nominal","sort":["OLS","Ridge","Lasso","Elastic-Net","SVR","RVR"],"scale":{"type":"band","domain":["OLS","Ridge","Lasso","Elastic-Net","SVR","RVR"],"paddingInner":0,"paddingOuter":0.5},"axis":{"title":null,"labelFont":"Lato","labelFontSize":21,"labelFontWeight":"bold","labelColor":"#111111","labelAngle":0,"labelOverlap":false,"domainColor":"#a0a0a0","tickColor":"#a0a0a0","tickSize":-5,"labelPadding":22,"bandPosition":0.5}},
"xOffset":{"field":"offset","type":"quantitative","scale":{"domain":[-50,50],"nice":false,"zero":false}},
"y":{"field":"value","type":"quantitative","scale":{"domain":[-30,40],"nice":false},"title":"BrainPAD","axis":{"values":[-30,-20,-10,0,10,20,30,40],"labelFont":"Liberation Sans","labelFontSize":6,"labelColor":"#444444","labelPadding":2,"tickSize":4,"tickColor":"#999999","domainColor":"#a0a0a0","grid":false,"titleFont":"Lato","titleFontSize":21,"titleFontWeight":"bold","titleColor":"#111111","titlePadding":3,"titleY":202}},
"color":{"field":"method","type":"nominal","scale":{"domain":["OLS","Ridge","Lasso","Elastic-Net","SVR","RVR"],"range":["#5d9bd1","#87c7e7","#a07abb","#e9946c","#c2506d","#a5c586"]},"legend":null}}},
{"data":{"name":"ismms_stats"},"mark":{"type":"rule","color":"#6e6e6e","strokeWidth":1.3},"encoding":{"x":{"field":"method","type":"nominal","bandPosition":0.5},"y":{"field":"min","type":"quantitative","scale":{"domain":[-30,40],"nice":false},"title":"BrainPAD"},"y2":{"field":"max"}}},
{"data":{"name":"ismms_stats"},"mark":{"type":"rule","color":"#7a7a7a","strokeWidth":3.5},"encoding":{"x":{"field":"method","type":"nominal","bandPosition":0.5},"y":{"field":"q1","type":"quantitative","scale":{"domain":[-30,40],"nice":false},"title":"BrainPAD"},"y2":{"field":"q3"}}},
{"data":{"name":"ismms_stats"},"mark":{"type":"square","size":12,"filled":true,"fill":"#ffffff","stroke":"#777777","strokeWidth":0.7,"opacity":1},"encoding":{"x":{"field":"method","type":"nominal","bandPosition":0.5},"y":{"field":"median","type":"quantitative","scale":{"domain":[-30,40],"nice":false},"title":"BrainPAD"}}}
]}
],
"resolve": {"scale": {"x": "independent"}}
},
{
"width": 733, "height": 387,
"title": {"text": "COBRE: Patients with Schizophrenia", "font": "Open Sans", "fontSize": 20, "fontWeight": "bold", "color": "#111111", "anchor": "middle", "dx": 60, "baseline": "alphabetic", "offset": -23.5},
"layer": [
{"layer":[
{"data":{"name":"cobre_outline"},"transform":[{"filter":{"field":"method","equal":"OLS"}}],"mark":{"type":"area","orient":"horizontal","interpolate":"monotone","fill":"#a9cbe8","stroke":"#a3a3a3","strokeWidth":0.8},"encoding":{"y":{"field":"value","type":"quantitative","scale":{"domain":[-20,40],"nice":false},"title":"BrainPAD"},"x":{"field":"w","type":"quantitative","scale":{"domain":[-100,600],"nice":false,"zero":false},"axis":null},"x2":{"datum":0}}},
{"data":{"name":"cobre_stats"},"transform":[{"filter":{"field":"method","equal":"OLS"}}],"mark":{"type":"rule","color":"#6d9fc9","strokeWidth":1},"encoding":{"y":{"field":"mean","type":"quantitative","scale":{"domain":[-20,40],"nice":false},"title":"BrainPAD"},"x":{"field":"meanw","type":"quantitative","axis":null},"x2":{"datum":0}}}
]},
{"layer":[
{"data":{"name":"cobre_outline"},"transform":[{"filter":{"field":"method","equal":"OLS"}}],"mark":{"type":"area","orient":"horizontal","interpolate":"monotone","fill":"#a9cbe8","stroke":"#a3a3a3","strokeWidth":0.8},"encoding":{"y":{"field":"value","type":"quantitative","scale":{"domain":[-20,40],"nice":false},"title":"BrainPAD"},"x":{"field":"w","type":"quantitative","scale":{"domain":[-600,100],"nice":false,"zero":false,"reverse":true},"axis":null},"x2":{"datum":0}}},
{"data":{"name":"cobre_stats"},"transform":[{"filter":{"field":"method","equal":"OLS"}}],"mark":{"type":"rule","color":"#6d9fc9","strokeWidth":1},"encoding":{"y":{"field":"mean","type":"quantitative","scale":{"domain":[-20,40],"nice":false},"title":"BrainPAD"},"x":{"field":"meanw","type":"quantitative","axis":null},"x2":{"datum":0}}}
]},
{"layer":[
{"data":{"name":"cobre_outline"},"transform":[{"filter":{"field":"method","equal":"Ridge"}}],"mark":{"type":"area","orient":"horizontal","interpolate":"monotone","fill":"#cce9f8","stroke":"#a3a3a3","strokeWidth":0.8},"encoding":{"y":{"field":"value","type":"quantitative","scale":{"domain":[-20,40],"nice":false},"title":"BrainPAD"},"x":{"field":"w","type":"quantitative","scale":{"domain":[-200,500],"nice":false,"zero":false},"axis":null},"x2":{"datum":0}}},
{"data":{"name":"cobre_stats"},"transform":[{"filter":{"field":"method","equal":"Ridge"}}],"mark":{"type":"rule","color":"#8fcbe6","strokeWidth":1},"encoding":{"y":{"field":"mean","type":"quantitative","scale":{"domain":[-20,40],"nice":false},"title":"BrainPAD"},"x":{"field":"meanw","type":"quantitative","axis":null},"x2":{"datum":0}}}
]},
{"layer":[
{"data":{"name":"cobre_outline"},"transform":[{"filter":{"field":"method","equal":"Ridge"}}],"mark":{"type":"area","orient":"horizontal","interpolate":"monotone","fill":"#cce9f8","stroke":"#a3a3a3","strokeWidth":0.8},"encoding":{"y":{"field":"value","type":"quantitative","scale":{"domain":[-20,40],"nice":false},"title":"BrainPAD"},"x":{"field":"w","type":"quantitative","scale":{"domain":[-500,200],"nice":false,"zero":false,"reverse":true},"axis":null},"x2":{"datum":0}}},
{"data":{"name":"cobre_stats"},"transform":[{"filter":{"field":"method","equal":"Ridge"}}],"mark":{"type":"rule","color":"#8fcbe6","strokeWidth":1},"encoding":{"y":{"field":"mean","type":"quantitative","scale":{"domain":[-20,40],"nice":false},"title":"BrainPAD"},"x":{"field":"meanw","type":"quantitative","axis":null},"x2":{"datum":0}}}
]},
{"layer":[
{"data":{"name":"cobre_outline"},"transform":[{"filter":{"field":"method","equal":"Lasso"}}],"mark":{"type":"area","orient":"horizontal","interpolate":"monotone","fill":"#d6bce1","stroke":"#a3a3a3","strokeWidth":0.8},"encoding":{"y":{"field":"value","type":"quantitative","scale":{"domain":[-20,40],"nice":false},"title":"BrainPAD"},"x":{"field":"w","type":"quantitative","scale":{"domain":[-300,400],"nice":false,"zero":false},"axis":null},"x2":{"datum":0}}},
{"data":{"name":"cobre_stats"},"transform":[{"filter":{"field":"method","equal":"Lasso"}}],"mark":{"type":"rule","color":"#a27dbd","strokeWidth":1},"encoding":{"y":{"field":"mean","type":"quantitative","scale":{"domain":[-20,40],"nice":false},"title":"BrainPAD"},"x":{"field":"meanw","type":"quantitative","axis":null},"x2":{"datum":0}}}
]},
{"layer":[
{"data":{"name":"cobre_outline"},"transform":[{"filter":{"field":"method","equal":"Lasso"}}],"mark":{"type":"area","orient":"horizontal","interpolate":"monotone","fill":"#d6bce1","stroke":"#a3a3a3","strokeWidth":0.8},"encoding":{"y":{"field":"value","type":"quantitative","scale":{"domain":[-20,40],"nice":false},"title":"BrainPAD"},"x":{"field":"w","type":"quantitative","scale":{"domain":[-400,300],"nice":false,"zero":false,"reverse":true},"axis":null},"x2":{"datum":0}}},
{"data":{"name":"cobre_stats"},"transform":[{"filter":{"field":"method","equal":"Lasso"}}],"mark":{"type":"rule","color":"#a27dbd","strokeWidth":1},"encoding":{"y":{"field":"mean","type":"quantitative","scale":{"domain":[-20,40],"nice":false},"title":"BrainPAD"},"x":{"field":"meanw","type":"quantitative","axis":null},"x2":{"datum":0}}}
]},
{"layer":[
{"data":{"name":"cobre_outline"},"transform":[{"filter":{"field":"method","equal":"Elastic-Net"}}],"mark":{"type":"area","orient":"horizontal","interpolate":"monotone","fill":"#f7c8ae","stroke":"#a3a3a3","strokeWidth":0.8},"encoding":{"y":{"field":"value","type":"quantitative","scale":{"domain":[-20,40],"nice":false},"title":"BrainPAD"},"x":{"field":"w","type":"quantitative","scale":{"domain":[-400,300],"nice":false,"zero":false},"axis":null},"x2":{"datum":0}}},
{"data":{"name":"cobre_stats"},"transform":[{"filter":{"field":"method","equal":"Elastic-Net"}}],"mark":{"type":"rule","color":"#e59b7a","strokeWidth":1},"encoding":{"y":{"field":"mean","type":"quantitative","scale":{"domain":[-20,40],"nice":false},"title":"BrainPAD"},"x":{"field":"meanw","type":"quantitative","axis":null},"x2":{"datum":0}}}
]},
{"layer":[
{"data":{"name":"cobre_outline"},"transform":[{"filter":{"field":"method","equal":"Elastic-Net"}}],"mark":{"type":"area","orient":"horizontal","interpolate":"monotone","fill":"#f7c8ae","stroke":"#a3a3a3","strokeWidth":0.8},"encoding":{"y":{"field":"value","type":"quantitative","scale":{"domain":[-20,40],"nice":false},"title":"BrainPAD"},"x":{"field":"w","type":"quantitative","scale":{"domain":[-300,400],"nice":false,"zero":false,"reverse":true},"axis":null},"x2":{"datum":0}}},
{"data":{"name":"cobre_stats"},"transform":[{"filter":{"field":"method","equal":"Elastic-Net"}}],"mark":{"type":"rule","color":"#e59b7a","strokeWidth":1},"encoding":{"y":{"field":"mean","type":"quantitative","scale":{"domain":[-20,40],"nice":false},"title":"BrainPAD"},"x":{"field":"meanw","type":"quantitative","axis":null},"x2":{"datum":0}}}
]},
{"layer":[
{"data":{"name":"cobre_outline"},"transform":[{"filter":{"field":"method","equal":"SVR"}}],"mark":{"type":"area","orient":"horizontal","interpolate":"monotone","fill":"#e7b3c1","stroke":"#a3a3a3","strokeWidth":0.8},"encoding":{"y":{"field":"value","type":"quantitative","scale":{"domain":[-20,40],"nice":false},"title":"BrainPAD"},"x":{"field":"w","type":"quantitative","scale":{"domain":[-500,200],"nice":false,"zero":false},"axis":null},"x2":{"datum":0}}},
{"data":{"name":"cobre_stats"},"transform":[{"filter":{"field":"method","equal":"SVR"}}],"mark":{"type":"rule","color":"#bb6580","strokeWidth":1},"encoding":{"y":{"field":"mean","type":"quantitative","scale":{"domain":[-20,40],"nice":false},"title":"BrainPAD"},"x":{"field":"meanw","type":"quantitative","axis":null},"x2":{"datum":0}}}
]},
{"layer":[
{"data":{"name":"cobre_outline"},"transform":[{"filter":{"field":"method","equal":"SVR"}}],"mark":{"type":"area","orient":"horizontal","interpolate":"monotone","fill":"#e7b3c1","stroke":"#a3a3a3","strokeWidth":0.8},"encoding":{"y":{"field":"value","type":"quantitative","scale":{"domain":[-20,40],"nice":false},"title":"BrainPAD"},"x":{"field":"w","type":"quantitative","scale":{"domain":[-200,500],"nice":false,"zero":false,"reverse":true},"axis":null},"x2":{"datum":0}}},
{"data":{"name":"cobre_stats"},"transform":[{"filter":{"field":"method","equal":"SVR"}}],"mark":{"type":"rule","color":"#bb6580","strokeWidth":1},"encoding":{"y":{"field":"mean","type":"quantitative","scale":{"domain":[-20,40],"nice":false},"title":"BrainPAD"},"x":{"field":"meanw","type":"quantitative","axis":null},"x2":{"datum":0}}}
]},
{"layer":[
{"data":{"name":"cobre_outline"},"transform":[{"filter":{"field":"method","equal":"RVR"}}],"mark":{"type":"area","orient":"horizontal","interpolate":"monotone","fill":"#d8e8c0","stroke":"#a3a3a3","strokeWidth":0.8},"encoding":{"y":{"field":"value","type":"quantitative","scale":{"domain":[-20,40],"nice":false},"title":"BrainPAD"},"x":{"field":"w","type":"quantitative","scale":{"domain":[-600,100],"nice":false,"zero":false},"axis":null},"x2":{"datum":0}}},
{"data":{"name":"cobre_stats"},"transform":[{"filter":{"field":"method","equal":"RVR"}}],"mark":{"type":"rule","color":"#a9c68d","strokeWidth":1},"encoding":{"y":{"field":"mean","type":"quantitative","scale":{"domain":[-20,40],"nice":false},"title":"BrainPAD"},"x":{"field":"meanw","type":"quantitative","axis":null},"x2":{"datum":0}}}
]},
{"layer":[
{"data":{"name":"cobre_outline"},"transform":[{"filter":{"field":"method","equal":"RVR"}}],"mark":{"type":"area","orient":"horizontal","interpolate":"monotone","fill":"#d8e8c0","stroke":"#a3a3a3","strokeWidth":0.8},"encoding":{"y":{"field":"value","type":"quantitative","scale":{"domain":[-20,40],"nice":false},"title":"BrainPAD"},"x":{"field":"w","type":"quantitative","scale":{"domain":[-100,600],"nice":false,"zero":false,"reverse":true},"axis":null},"x2":{"datum":0}}},
{"data":{"name":"cobre_stats"},"transform":[{"filter":{"field":"method","equal":"RVR"}}],"mark":{"type":"rule","color":"#a9c68d","strokeWidth":1},"encoding":{"y":{"field":"mean","type":"quantitative","scale":{"domain":[-20,40],"nice":false},"title":"BrainPAD"},"x":{"field":"meanw","type":"quantitative","axis":null},"x2":{"datum":0}}}
]},
{"layer":[
{"data":{"name":"cobre_points"},"mark":{"type":"circle","size":9,"opacity":0.8},"encoding":{
"x":{"field":"method","type":"nominal","sort":["OLS","Ridge","Lasso","Elastic-Net","SVR","RVR"],"scale":{"type":"band","domain":["OLS","Ridge","Lasso","Elastic-Net","SVR","RVR"],"paddingInner":0,"paddingOuter":0.5},"axis":{"title":null,"labelFont":"Lato","labelFontSize":21,"labelFontWeight":"bold","labelColor":"#111111","labelAngle":0,"labelOverlap":false,"domainColor":"#a0a0a0","tickColor":"#a0a0a0","tickSize":-5,"labelPadding":22,"bandPosition":0.5}},
"xOffset":{"field":"offset","type":"quantitative","scale":{"domain":[-50,50],"nice":false,"zero":false}},
"y":{"field":"value","type":"quantitative","scale":{"domain":[-20,40],"nice":false},"title":"BrainPAD","axis":{"values":[-20,-10,0,10,20,30,40],"labelFont":"Liberation Sans","labelFontSize":6,"labelColor":"#444444","labelPadding":2,"tickSize":4,"tickColor":"#999999","domainColor":"#a0a0a0","grid":false,"titleFont":"Lato","titleFontSize":21,"titleFontWeight":"bold","titleColor":"#111111","titlePadding":3}},
"color":{"field":"method","type":"nominal","scale":{"domain":["OLS","Ridge","Lasso","Elastic-Net","SVR","RVR"],"range":["#5d9bd1","#87c7e7","#a07abb","#e9946c","#c2506d","#a5c586"]},"legend":null}}},
{"data":{"name":"cobre_stats"},"mark":{"type":"rule","color":"#6e6e6e","strokeWidth":1.3},"encoding":{"x":{"field":"method","type":"nominal","bandPosition":0.5},"y":{"field":"min","type":"quantitative","scale":{"domain":[-20,40],"nice":false},"title":"BrainPAD"},"y2":{"field":"max"}}},
{"data":{"name":"cobre_stats"},"mark":{"type":"rule","color":"#7a7a7a","strokeWidth":3.5},"encoding":{"x":{"field":"method","type":"nominal","bandPosition":0.5},"y":{"field":"q1","type":"quantitative","scale":{"domain":[-20,40],"nice":false},"title":"BrainPAD"},"y2":{"field":"q3"}}},
{"data":{"name":"cobre_stats"},"mark":{"type":"square","size":12,"filled":true,"fill":"#ffffff","stroke":"#777777","strokeWidth":0.7,"opacity":1},"encoding":{"x":{"field":"method","type":"nominal","bandPosition":0.5},"y":{"field":"median","type":"quantitative","scale":{"domain":[-20,40],"nice":false},"title":"BrainPAD"}}}
]}
],
"resolve": {"scale": {"x": "independent"}}
}
]
}
